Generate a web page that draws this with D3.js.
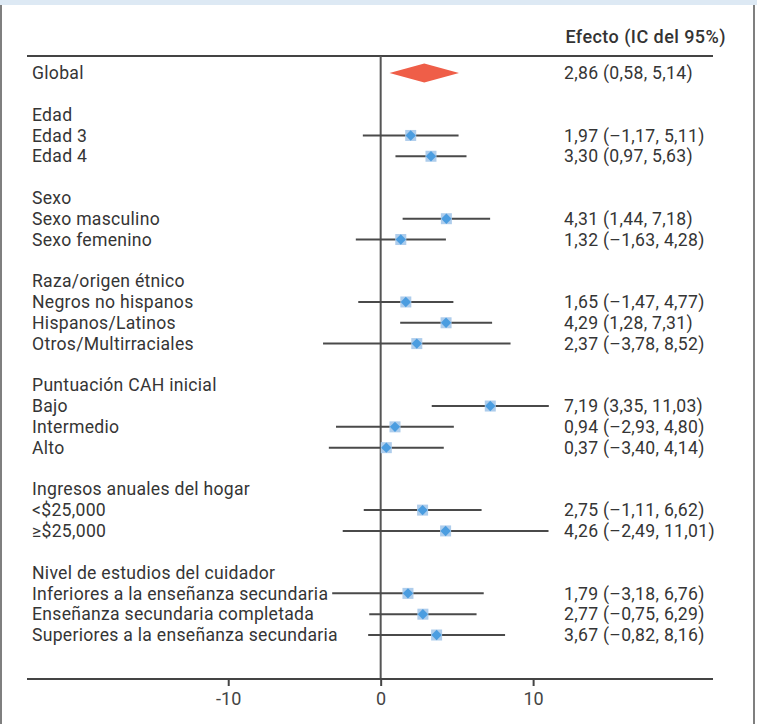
<!DOCTYPE html>
<html>
<head>
<meta charset="utf-8">
<script src="https://cdn.jsdelivr.net/npm/d3@7"></script>
<style>
  body { margin: 0; background: #fff; }
  svg { display: block; font-family: Roboto, sans-serif; }
</style>
</head>
<body>
<div id="chart"></div>
<script>
// rows top to bottom; "header" rows have no estimate, null = blank spacer
const labels = [
  "Global", null,
  "Edad", "Edad 3", "Edad 4", null,
  "Sexo", "Sexo masculino", "Sexo femenino", null,
  "Raza/origen étnico", "Negros no hispanos", "Hispanos/Latinos", "Otros/Multirraciales", null,
  "Puntuación CAH inicial", "Bajo", "Intermedio", "Alto", null,
  "Ingresos anuales del hogar", "<$25,000", "≥$25,000", null,
  "Nivel de estudios del cuidador", "Inferiores a la enseñanza secundaria",
  "Enseñanza secundaria completada", "Superiores a la enseñanza secundaria"
];
const effect = [
  2.86, null,
  null, 1.97, 3.30, null,
  null, 4.31, 1.32, null,
  null, 1.65, 4.29, 2.37, null,
  null, 7.19, 0.94, 0.37, null,
  null, 2.75, 4.26, null,
  null, 1.79, 2.77, 3.67
];
const lower = [
  0.58, null,
  null, -1.17, 0.97, null,
  null, 1.44, -1.63, null,
  null, -1.47, 1.28, -3.78, null,
  null, 3.35, -2.93, -3.40, null,
  null, -1.11, -2.49, null,
  null, -3.18, -0.75, -0.82
];
const upper = [
  5.14, null,
  null, 5.11, 5.63, null,
  null, 7.18, 4.28, null,
  null, 4.77, 7.31, 8.52, null,
  null, 11.03, 4.80, 4.14, null,
  null, 6.62, 11.01, null,
  null, 6.76, 6.29, 8.16
];
const xTicks = [-10, 0, 10];

const W = 757, H = 724;
const rows = labels.map((l, i) => ({ i, label: l, est: effect[i], lo: lower[i], hi: upper[i] }));

const svg = d3.select("#chart").append("svg").attr("width", W).attr("height", H);

// frame
svg.append("rect").attr("x", 0).attr("y", 0).attr("width", W).attr("height", 5).attr("fill", "#dde9f4");
svg.append("line").attr("x1", 1).attr("x2", 1).attr("y1", 5).attr("y2", H).attr("stroke", "#555").attr("stroke-width", 1.5);
svg.append("line").attr("x1", 754).attr("x2", 754).attr("y1", 5).attr("y2", H).attr("stroke", "#555").attr("stroke-width", 1.5);

const x = d3.scaleLinear().domain([-23.2, 21.8]).range([27, 713]);
const y = d3.scalePoint().domain(d3.range(labels.length)).range([73, 635]);

const fmt = v => d3.format(".2f")(Math.abs(v)).replace(".", ",");
const fmtS = v => (v < 0 ? "–" : "") + fmt(v);

// header
svg.append("text").attr("x", 726).attr("y", 43).attr("text-anchor", "end")
  .attr("font-size", 18).attr("font-weight", 500).attr("letter-spacing", 0.45).attr("fill", "#333")
  .text("Efecto (IC del 95%)");
svg.append("line").attr("x1", 27).attr("x2", 713).attr("y1", 56).attr("y2", 56)
  .attr("stroke", "#444").attr("stroke-width", 2);

// zero line
svg.append("line").attr("x1", x(0)).attr("x2", x(0)).attr("y1", 56).attr("y2", 679)
  .attr("stroke", "#555").attr("stroke-width", 2);

// axis
const axis = svg.append("g").attr("transform", "translate(0,679)")
  .call(d3.axisBottom(x).tickValues(xTicks).tickSize(7).tickPadding(6).tickFormat(d => d < 0 ? "-" + Math.abs(d) : d));
axis.select(".domain").remove();
axis.selectAll(".tick line").attr("stroke", "#444").attr("stroke-width", 2);
axis.selectAll(".tick text").attr("font-size", 18).attr("fill", "#444").attr("font-family", "Roboto, sans-serif");
svg.append("line").attr("x1", 27).attr("x2", 713).attr("y1", 679).attr("y2", 679)
  .attr("stroke", "#444").attr("stroke-width", 2);

// labels
svg.append("g").selectAll("text")
  .data(rows.filter(d => d.label))
  .join("text")
  .attr("x", 32).attr("y", d => y(d.i)).attr("dy", "0.35em")
  .attr("font-size", 17.6).attr("letter-spacing", 0.28).attr("fill", "#353535")
  .text(d => d.label);

const est = rows.filter(d => d.est != null);

// values
svg.append("g").selectAll("text")
  .data(est)
  .join("text")
  .attr("x", 564).attr("y", d => y(d.i)).attr("dy", "0.35em")
  .attr("font-size", 17.6).attr("letter-spacing", 0.3).attr("fill", "#353535")
  .text(d => `${fmt(d.est)} (${fmtS(d.lo)}, ${fmt(d.hi)})`);

const sub = est.filter(d => d.i > 0);
const g = svg.append("g");
g.selectAll("line.ci").data(sub).join("line").attr("class", "ci")
  .attr("x1", d => x(d.lo)).attr("x2", d => x(d.hi))
  .attr("y1", d => y(d.i)).attr("y2", d => y(d.i))
  .attr("stroke", "#4a4a4a").attr("stroke-width", 2);
g.selectAll("rect.box").data(sub).join("rect").attr("class", "box")
  .attr("x", d => x(d.est) - 5.5).attr("y", d => y(d.i) - 5.5)
  .attr("width", 11).attr("height", 11).attr("fill", "#aecdec");
g.selectAll("path.pt").data(sub).join("path").attr("class", "pt")
  .attr("d", d => {
    const cx = x(d.est), cy = y(d.i), r = 5.2;
    return `M${cx - r},${cy}L${cx},${cy - r}L${cx + r},${cy}L${cx},${cy + r}Z`;
  })
  .attr("fill", "#4b9de0");

// overall diamond
const gl = rows[0];
svg.append("path")
  .attr("d", `M${x(gl.lo)},${y(0)}L${x(gl.est)},${y(0) - 9.5}L${x(gl.hi)},${y(0)}L${x(gl.est)},${y(0) + 9.5}Z`)
  .attr("fill", "#ef5e48");
</script>
</body>
</html>
